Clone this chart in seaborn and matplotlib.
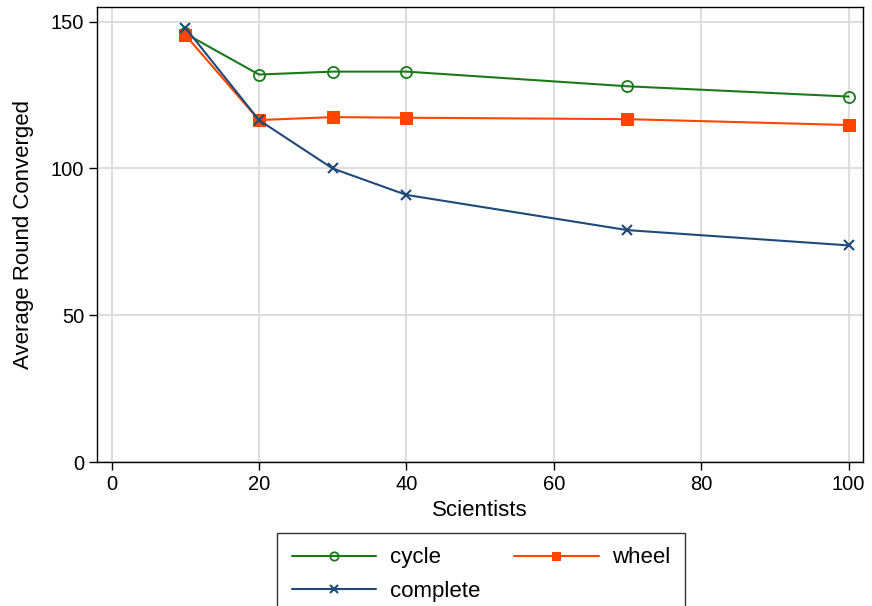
import numpy as np
import pandas as pd
import matplotlib
matplotlib.use("Agg")
import matplotlib.pyplot as plt
import seaborn as sns

# data
scientists = [10, 20, 30, 40, 70, 100]
cycle = [146, 132, 133, 133, 128, 124.5]
wheel = [145.5, 116.5, 117.5, 117.3, 116.8, 114.8]
complete = [148, 116.5, 100, 91, 79, 73.8]

series_names = ["cycle", "wheel", "complete"]
series_values = [cycle, wheel, complete]
series_colors = ["#1a7a1a", "#ff4500", "#1f4a78"]
series_markers = ["o", "s", "x"]

sns.set_style("white")
plt.rcParams["font.family"] = ["Liberation Sans", "DejaVu Sans"]
plt.rcParams.update({"text.color": "black", "axes.labelcolor": "black",
                     "xtick.color": "black", "ytick.color": "black"})

fig = plt.figure(figsize=(8.72, 6.06), dpi=100)
ax = fig.add_axes([0.111, 0.2376, 0.879, 0.7508])

for name, vals, color, mk in zip(series_names, series_values, series_colors, series_markers):
    df = pd.DataFrame({"Scientists": scientists, "value": vals})
    if mk == "o":
        extra = dict(markerfacecolor="none", markeredgecolor=color, markersize=8, markeredgewidth=1.3)
    elif mk == "s":
        extra = dict(markerfacecolor=color, markeredgecolor=color, markersize=8)
    else:
        extra = dict(markeredgecolor=color, markersize=7, markeredgewidth=1.5)
    sns.lineplot(data=df, x="Scientists", y="value", ax=ax, color=color, marker=mk,
                 linewidth=1.5, label=name, **extra)

ax.set_xlim(-2, 102)
ax.set_ylim(0, 155)
ax.set_xticks([0, 20, 40, 60, 80, 100])
ax.set_yticks([0, 50, 100, 150])
ax.grid(True, color="#dedede", linewidth=1.5)
ax.set_axisbelow(True)
for s in ax.spines.values():
    s.set_color("black")
    s.set_linewidth(1.0)
ax.tick_params(axis="both", direction="out", length=6, width=1, color="black",
               labelsize=14.5, bottom=True, left=True, pad=3)
ax.set_xlabel("Scientists", fontsize=16, labelpad=5)
ax.set_ylabel("Average Round Converged", fontsize=16, labelpad=12)

ax.get_legend().remove()
handles, labels = ax.get_legend_handles_labels()
# column-wise fill: cycle / complete in first column, wheel in second
order = [0, 2, 1]
leg = fig.legend([handles[i] for i in order], [labels[i] for i in order], ncol=2,
                 loc="upper center", bbox_to_anchor=(0.552, 0.1205), fontsize=16,
                 frameon=True, fancybox=False, edgecolor="black", handlelength=3.8,
                 handletextpad=0.63, columnspacing=1.5, borderpad=0.65,
                 borderaxespad=0, labelspacing=0.55, numpoints=1)
leg.get_frame().set_linewidth(1.0)
for h in leg.legend_handles:
    h.set_markersize(6)

fig.savefig("out.png", dpi=100)
